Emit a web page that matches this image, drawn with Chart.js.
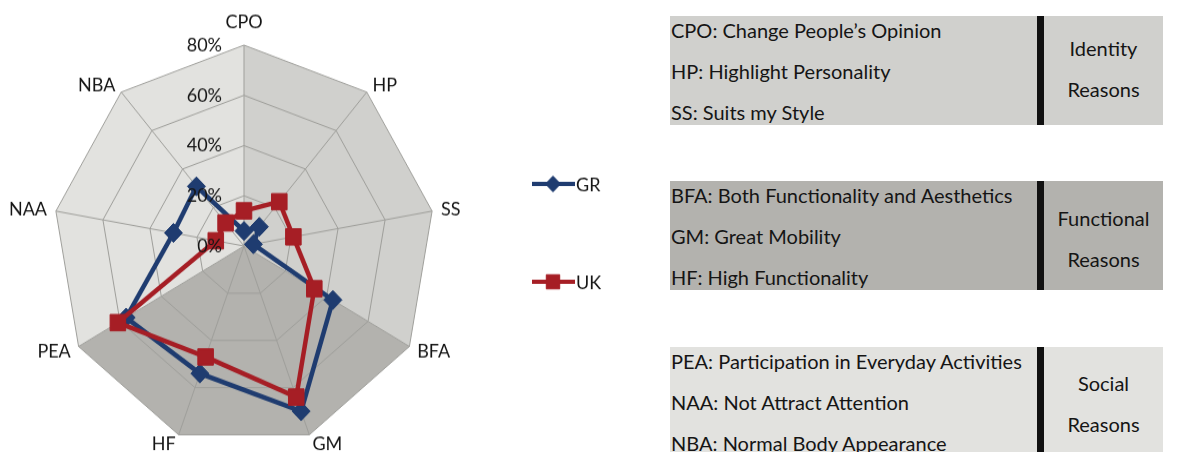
<!DOCTYPE html>
<html>
<head>
<meta charset="utf-8">
<title>Reasons radar</title>
<script src="https://cdn.jsdelivr.net/npm/chart.js@4.4.0/dist/chart.umd.min.js"></script>
<style>
    body { margin: 0; background: #fff; width: 1196px; height: 452px; overflow: hidden; position: relative; font-family: Lato, "Open Sans", sans-serif; color: #151515; }
    #chart-wrap { position: absolute; left: 0; top: 0; width: 660px; height: 452px; }
    /* the source picture is a little taller than wide, so stretch the canvas the same way */
    #radar { transform: scaleY(1.052); transform-origin: 0 246px; }
    .box { position: absolute; left: 670px; width: 493px; height: 109px; font-size: 20px; }
    .box .bar { position: absolute; left: 367px; top: 0; width: 7px; height: 100%; background: #111; }
    .box .lines { position: absolute; left: 1px; top: -6px; line-height: 41px; white-space: nowrap; }
    .box .tag { position: absolute; left: 374px; width: 119px; line-height: 41px; text-align: center; }
</style>
</head>
<body>
<div id="chart-wrap"><canvas id="radar" width="660" height="452"></canvas></div>

<div class="box" style="top:16px; background:#d0d0cd;">
    <div class="lines">CPO: Change People’s Opinion<br>HP: Highlight Personality<br>SS: Suits my Style</div>
    <div class="bar"></div>
    <div class="tag" style="top:12px;">Identity<br>Reasons</div>
</div>
<div class="box" style="top:181px; background:#b3b2ae;">
    <div class="lines">BFA: Both Functionality and Aesthetics<br>GM: Great Mobility<br>HF: High Functionality</div>
    <div class="bar"></div>
    <div class="tag" style="top:17px;">Functional<br>Reasons</div>
</div>
<div class="box" style="top:347px; height:105px; background:#e2e2df;">
    <div class="lines">PEA: Participation in Everyday Activities<br>NAA: Not Attract Attention<br>NBA: Normal Body Appearance</div>
    <div class="bar"></div>
    <div class="tag" style="top:16px;">Social<br>Reasons</div>
</div>

<script>
// categories and values (percent)
const categories = ['CPO', 'HP', 'SS', 'BFA', 'GM', 'HF', 'PEA', 'NAA', 'NBA'];
const grValues = [6, 10, 4, 43, 70, 54, 57, 30, 31];
const ukValues = [14, 23, 21, 34, 64, 47, 61, 12, 12];
const tickValues = [0, 20, 40, 60, 80];

// background sectors: [first index, last index, colour]
const sectors = [
    [0, 3, '#d0d0cd'],   // identity
    [3, 6, '#b3b2ae'],   // functional
    [6, 9, '#e2e2df']    // social (wraps back to CPO)
];

const blue = '#1f3c70';
const red = '#a61e25';
const textColor = '#151515';
const labelFont = '18px Lato, "Open Sans", sans-serif';

const sectorPlugin = {
    id: 'sectors',
    beforeDraw(chart) {
        const r = chart.scales.r;
        const ctx = chart.ctx;
        ctx.save();
        sectors.forEach(([from, to, color]) => {
            ctx.beginPath();
            ctx.moveTo(r.xCenter, r.yCenter);
            for (let i = from; i <= to; i++) {
                const p = r.getPointPosition(i % categories.length, r.drawingArea);
                ctx.lineTo(p.x, p.y);
            }
            ctx.closePath();
            ctx.fillStyle = color;
            ctx.fill();
        });
        ctx.restore();
    }
};

const labelPlugin = {
    id: 'labels',
    afterDatasetsDraw(chart) {
        const r = chart.scales.r;
        const ctx = chart.ctx;
        ctx.save();
        ctx.font = labelFont;
        ctx.fillStyle = textColor;

        // category labels round the outside
        const gap = 9;
        categories.forEach((name, i) => {
            const a = r.getIndexAngle(i);
            const s = Math.sin(a), c = Math.cos(a);
            const v = r.getPointPosition(i, r.drawingArea);
            let x = v.x + s * gap;
            let y = v.y - c * gap;
            if (Math.abs(c) > 0.99) y -= c * 13;
            ctx.textAlign = s > 0.01 ? 'left' : (s < -0.01 ? 'right' : 'center');
            ctx.textBaseline = 'middle';
            ctx.fillText(name, x, y);
        });

        // percent ticks, left of the vertical axis
        ctx.textAlign = 'right';
        ctx.textBaseline = 'middle';
        tickValues.forEach(t => {
            const d = r.getDistanceFromCenterForValue(t);
            ctx.fillText(t + '%', r.xCenter - 22, r.yCenter - d);
        });
        ctx.restore();
    },
    afterDraw(chart) {
        // legend: line with marker, like the spreadsheet legend
        const ctx = chart.ctx;
        const items = [
            { text: 'GR', y: 187, ds: chart.data.datasets[0] },
            { text: 'UK', y: 280, ds: chart.data.datasets[1] }
        ];
        ctx.save();
        items.forEach(it => {
            const ds = it.ds;
            ctx.strokeStyle = ds.borderColor;
            ctx.lineWidth = 4;
            ctx.beginPath();
            ctx.moveTo(532, it.y);
            ctx.lineTo(575, it.y);
            ctx.stroke();
            ctx.fillStyle = ds.pointBackgroundColor;
            ctx.strokeStyle = ds.pointBorderColor;
            ctx.lineWidth = 1;
            Chart.helpers.drawPoint(ctx, {
                pointStyle: ds.pointStyle,
                radius: ds.pointRadius - 1.5,
                borderWidth: 1,
                rotation: 0
            }, 553, it.y);
            ctx.font = labelFont;
            ctx.fillStyle = textColor;
            ctx.textAlign = 'left';
            ctx.textBaseline = 'middle';
            ctx.fillText(it.text, 576, it.y + 1);
        });
        ctx.restore();
    }
};

new Chart(document.getElementById('radar'), {
    type: 'radar',
    data: {
        labels: categories,
        datasets: [
            {
                label: 'GR',
                data: grValues,
                borderColor: blue,
                backgroundColor: blue,
                pointBackgroundColor: blue,
                pointBorderColor: blue,
                pointStyle: 'rectRot',
                pointRadius: 9,
                pointBorderWidth: 1,
                borderWidth: 4.5,
                fill: false,
                order: 1
            },
            {
                label: 'UK',
                data: ukValues,
                borderColor: red,
                backgroundColor: red,
                pointBackgroundColor: red,
                pointBorderColor: red,
                pointStyle: 'rect',
                pointRadius: 11,
                pointBorderWidth: 1,
                borderWidth: 4.5,
                fill: false,
                order: 0
            }
        ]
    },
    options: {
        responsive: false,
        animation: false,
        layout: { padding: { left: 53, right: 225, top: 55, bottom: 15 } },
        plugins: {
            legend: { display: false },
            tooltip: { enabled: false }
        },
        elements: { line: { tension: 0 } },
        scales: {
            r: {
                min: 0,
                max: 80,
                ticks: { stepSize: 20, display: false },
                grid: { color: '#9f9f9b', lineWidth: 1 },
                angleLines: { color: '#9f9f9b', lineWidth: 1 },
                pointLabels: { display: false }
            }
        }
    },
    plugins: [sectorPlugin, labelPlugin]
});
</script>
</body>
</html>
